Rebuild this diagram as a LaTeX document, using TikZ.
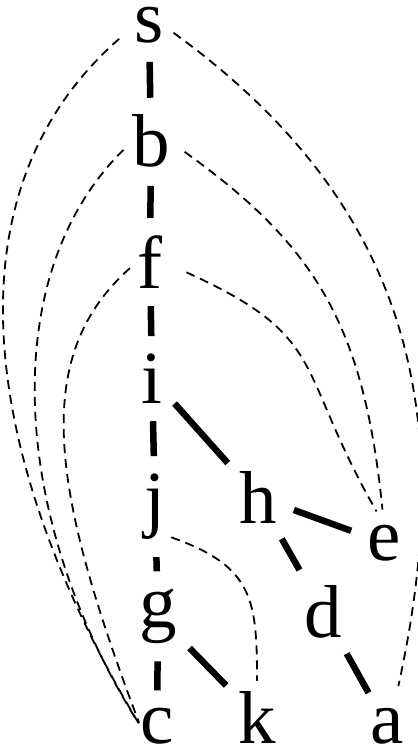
\documentclass[tikz,border=0pt]{standalone}
\usepackage{fontspec}
\setmainfont{Liberation Serif}
\begin{document}
\begin{tikzpicture}[x=1pt, y=-1pt,
    every node/.style={font=\fontsize{75}{75}\selectfont, inner sep=0pt, anchor=base},
    tree/.style={line width=6.5pt, shorten <=18pt, shorten >=17pt},
    back/.style={line width=1.8pt, dash pattern=on 9pt off 6pt}]
    \useasboundingbox (0,0) rectangle (417,751);
    \foreach \n/\x/\y in {s/149/43, b/151/167, f/150/288, i/152/403, j/155/523, h/258/523, e/384/560, g/158/627, d/323/637, c/157/743, k/257/743, a/387/743} {
        \node (\n) at (\x,\y) {\n};
    }
    \foreach \u/\v in {s/b, b/f, f/i, i/j, j/g, g/c, i/h, h/e, h/d, d/a, g/k} {
        \draw[tree] (\u)--(\v);
    }
    % back edges
    \draw[back, shorten <=20pt, shorten >=3pt] (s.west) .. controls +(-200,175) and +(-148,-246) .. (c.west);
    \draw[back, shorten <=12pt, shorten >=3pt] (b.west) .. controls +(-138,136) and +(-128,-203) .. (c.west);
    \draw[back, shorten <=10pt, shorten >=3pt] (f.west) .. controls +(-108,96) and +(-88,-233) .. (c.west);
    \draw[back, shorten <=12pt, shorten >=22pt] (s.east) .. controls +(248,180) and +(64,-292) .. (a.70);
    \draw[back, shorten <=18pt, shorten >=15pt] (b.east) .. controls +(148,106) and +(-20,-197) .. (e.north);
    \draw[back, shorten <=26pt, shorten >=15pt] (f.east) .. controls +(168,76) and +(-90,-157) .. (e.north);
    \draw[back, shorten <=6pt, shorten >=10pt] (j.-70) .. controls +(88,31) and +(0,-91) .. (k.north);
\end{tikzpicture}
\end{document}
